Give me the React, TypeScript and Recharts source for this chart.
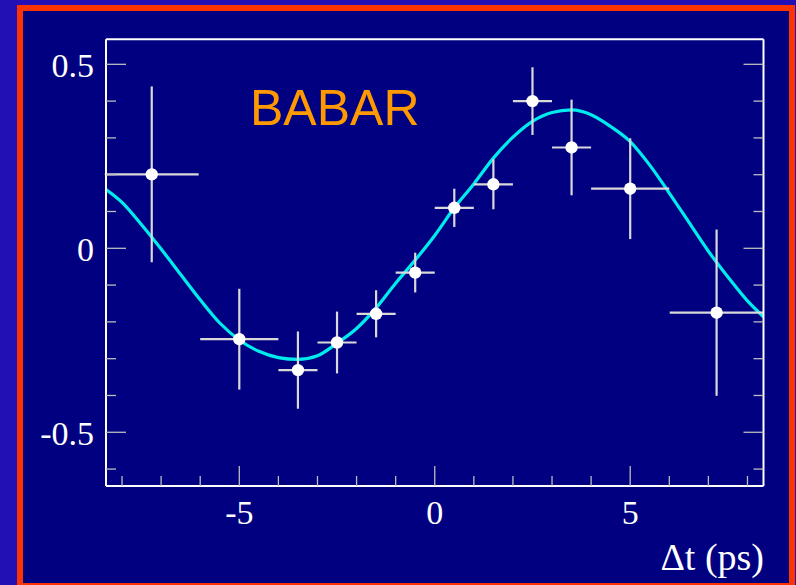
import React from 'react';
import { ComposedChart, Line, Scatter, ErrorBar, XAxis, YAxis } from 'recharts';

// measured points: Δt (ps), asymmetry, errors
const ptT = [-7.24, -5.0, -3.5, -2.5, -1.5, -0.5, 0.5, 1.5, 2.5, 3.5, 5.0, 7.21];
const ptA = [0.201, -0.247, -0.331, -0.256, -0.178, -0.066, 0.11, 0.174, 0.4, 0.274, 0.162, -0.175];
const ptErrT = [1.2, 1.0, 0.5, 0.5, 0.5, 0.5, 0.5, 0.5, 0.5, 0.5, 1.0, 1.2];
const ptErrA = [0.239, 0.137, 0.105, 0.084, 0.064, 0.054, 0.052, 0.068, 0.092, 0.13, 0.137, 0.226];

// fit curve
const fitT = [-8.41, -8, -7.5, -7, -6.5, -6, -5.5, -5, -4.5, -4, -3.5, -3, -2.5, -2, -1.5, -1, -0.5, 0, 0.5, 1, 1.5, 2, 2.5, 3, 3.5, 4, 4.5, 5, 5.5, 6, 6.5, 7, 7.5, 8, 8.41];
const fitA = [0.16, 0.125, 0.064, -0.002, -0.071, -0.14, -0.203, -0.249, -0.28, -0.297, -0.302, -0.292, -0.258, -0.218, -0.162, -0.095, -0.032, 0.035, 0.11, 0.175, 0.245, 0.302, 0.345, 0.369, 0.376, 0.363, 0.331, 0.29, 0.226, 0.15, 0.071, -0.008, -0.078, -0.143, -0.186];

const xTicks = [-8, -7, -6, -5, -4, -3, -2, -1, 0, 1, 2, 3, 4, 5, 6, 7, 8];
const xLabels = [-5, 0, 5];
const yTicks = [-0.6, -0.5, -0.4, -0.3, -0.2, -0.1, 0, 0.1, 0.2, 0.3, 0.4, 0.5];
const yLabels = [-0.5, 0, 0.5];

const points = ptT.map((t, i) => ({ x: t, y: ptA[i], ex: ptErrT[i], ey: ptErrA[i] }));
const curve = fitT.map((t, i) => ({ x: t, y: fitA[i] }));

const TICK = '#bdbdbd';
const BAR = '#d9d9d9';
const FONT = '"Liberation Serif", "Times New Roman", serif';

const isLabel = (v: number, list: number[]) => list.some((l) => Math.abs(l - v) < 1e-6);

const LeftTick = (p: any) => {
  const v = p.payload.value;
  const major = isLabel(v, yLabels);
  return (
    <g>
      <line x1={p.x} x2={p.x + (major ? 20 : 10)} y1={p.y} y2={p.y} stroke={TICK} strokeWidth={1.3} />
      {major && (
        <text x={p.x - 12} y={p.y + 13} textAnchor="end" fill="#fff" fontSize={34} fontFamily={FONT}>
          {String(v)}
        </text>
      )}
    </g>
  );
};

const RightTick = (p: any) => {
  const major = isLabel(p.payload.value, yLabels);
  return <line x1={p.x} x2={p.x - (major ? 20 : 10)} y1={p.y} y2={p.y} stroke={TICK} strokeWidth={1.3} />;
};

const BottomTick = (p: any) => {
  const v = p.payload.value;
  const major = isLabel(v, xLabels);
  return (
    <g>
      <line x1={p.x} x2={p.x} y1={p.y} y2={p.y - (major ? 20 : 10)} stroke={TICK} strokeWidth={1.3} />
      {major && (
        <text x={p.x} y={p.y + 38} textAnchor="middle" fill="#fff" fontSize={34} fontFamily={FONT}>
          {String(v)}
        </text>
      )}
    </g>
  );
};

const frame = { stroke: '#ffffff', strokeWidth: 2 };

export default function App() {
  return (
    <div style={{ position: 'absolute', left: 0, top: 0, width: 796, height: 585, overflow: 'hidden', background: '#2210b4' }}>
      <div
        style={{
          position: 'absolute',
          left: 17,
          top: 5,
          width: 778,
          height: 584,
          boxSizing: 'border-box',
          border: '6px solid #ff3300',
          background: '#000080'
        }}
      />
      <div style={{ position: 'absolute', left: 0, top: 0 }}>
        <ComposedChart width={796} height={585} margin={{ top: 37.3, right: 30.5, bottom: 39, left: 46 }}>
          <XAxis
            xAxisId="b"
            dataKey="x"
            type="number"
            domain={[-8.41, 8.41]}
            ticks={xTicks}
            interval={0}
            height={60}
            tickSize={0}
            tickMargin={0}
            tickLine={false}
            axisLine={frame}
            tick={BottomTick}
            allowDataOverflow
          />
          <XAxis xAxisId="t" orientation="top" type="number" domain={[-8.41, 8.41]} height={2} tick={false} tickLine={false} axisLine={frame} allowDataOverflow />
          <YAxis
            yAxisId="l"
            type="number"
            domain={[-0.646, 0.568]}
            ticks={yTicks}
            interval={0}
            width={60}
            tickSize={0}
            tickMargin={0}
            tickLine={false}
            axisLine={frame}
            tick={LeftTick}
            allowDataOverflow
          />
          <YAxis
            yAxisId="r"
            orientation="right"
            type="number"
            domain={[-0.646, 0.568]}
            ticks={yTicks}
            interval={0}
            width={2}
            tickSize={0}
            tickMargin={0}
            tickLine={false}
            axisLine={frame}
            tick={RightTick}
            allowDataOverflow
          />
          <Line
            xAxisId="b"
            yAxisId="l"
            data={curve}
            dataKey="y"
            type="monotone"
            stroke="#00ecec"
            strokeWidth={3.2}
            dot={false}
            activeDot={false}
            isAnimationActive={false}
          />
          <Scatter
            xAxisId="b"
            yAxisId="l"
            data={points}
            dataKey="y"
            fill="#ffffff"
            shape={(p: any) => <circle cx={p.cx} cy={p.cy} r={6.2} fill="#ffffff" />}
            isAnimationActive={false}
          >
            <ErrorBar dataKey="ex" direction="x" width={0} stroke={BAR} strokeWidth={2.2} style={{ strokeWidth: 2.2 }} isAnimationActive={false} />
            <ErrorBar dataKey="ey" direction="y" width={0} stroke={BAR} strokeWidth={2.2} style={{ strokeWidth: 2.2 }} isAnimationActive={false} />
          </Scatter>
        </ComposedChart>
      </div>
      <svg width={796} height={585} style={{ position: 'absolute', left: 0, top: 0, pointerEvents: 'none' }}>
        <text x={250} y={125} fill="#ff9900" fontSize={50} fontFamily='"Liberation Sans", Arial, sans-serif'>
          BABAR
        </text>
        <text x={764} y={570} textAnchor="end" fill="#fff" fontSize={38} fontFamily={FONT}>
          Δt (ps)
        </text>
      </svg>
    </div>
  );
}
